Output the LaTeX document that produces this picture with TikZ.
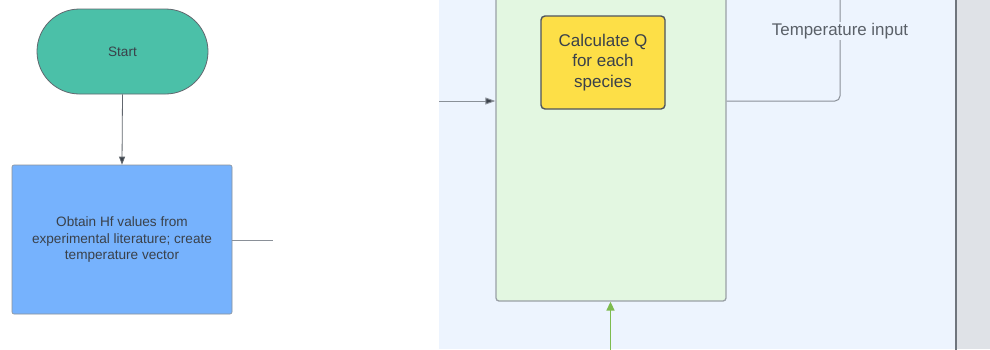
\documentclass[tikz,border=0pt]{standalone}
\usepackage{fontspec}
\setmainfont{Liberation Sans}
\usetikzlibrary{shapes.misc,arrows.meta}
\definecolor{panel}{HTML}{EDF4FE}
\definecolor{sidegrey}{HTML}{DFE2E7}
\definecolor{edgegrey}{HTML}{6F757D}
\definecolor{startfill}{HTML}{4BC0A8}
\definecolor{bluefill}{HTML}{76B2FD}
\definecolor{greenfill}{HTML}{E3F7E1}
\definecolor{greenedge}{HTML}{9AA0A6}
\definecolor{yellowfill}{HTML}{FDDF47}
\definecolor{txt}{HTML}{3A414A}
\definecolor{lbl}{HTML}{5A6068}
\definecolor{conn}{HTML}{8A9098}
\definecolor{garrow}{HTML}{7DBB4E}
\tikzset{
  startbox/.style={rounded rectangle, draw=txt!80, line width=0.8pt, fill=startfill, text=txt,
    minimum width=171pt, minimum height=85pt, inner sep=0pt, font=\fontsize{13.6}{16.7}\selectfont},
  procbox/.style={draw=edgegrey!80, line width=0.6pt, fill=bluefill, rounded corners=2pt, text=txt,
    minimum width=220pt, minimum height=149pt, inner sep=0pt, align=center, font=\fontsize{13.6}{16.7}\selectfont},
  loopbox/.style={draw=greenedge, line width=1.3pt, fill=greenfill, rounded corners=3pt,
    minimum width=230pt, minimum height=321pt, inner sep=0pt},
  calcbox/.style={draw=txt!90, line width=1.4pt, fill=yellowfill, rounded corners=4pt, text=txt,
    minimum width=124pt, minimum height=93pt, inner sep=0pt, align=center, font=\fontsize{17}{20.7}\selectfont},
  conline/.style={draw=conn, line width=1pt},
  lblnode/.style={fill=panel, text=lbl, inner sep=1pt, font=\fontsize{16.9}{19}\selectfont}
}
\begin{document}
\begin{tikzpicture}[x=1pt,y=-1pt]
\useasboundingbox (0,0) rectangle (990,349);
\clip (0,0) rectangle (990,349);
\fill[white] (0,0) rectangle (990,349);
\fill[panel] (439,0) rectangle (956,349);
\fill[sidegrey] (956,0) rectangle (990,349);
\draw[edgegrey, line width=2pt] (956,-2) -- (956,351);

\node[startbox] (start) at (122.5,51.5) {Start};
\node[procbox] (obtain) at (122,239.5) {Obtain Hf values from\\experimental literature; create\\temperature vector};
\coordinate (oEnd) at (273,240);
\draw[conline] (obtain.east |- oEnd) -- (oEnd);
\draw[draw=txt!80, line width=0.8pt, -{Triangle[length=8pt,width=6pt,fill=txt]}] (start.south) -- (obtain.north);

\node[loopbox] (loop) at (611,140.5) {};
\node[calcbox] (calc) at (603,62.5) {Calculate Q\\for each\\species};

\coordinate (inL) at (439,101);
\draw[conline, -{Triangle[length=10pt,width=7pt,fill=txt]}] (inL) -- (inL -| loop.west);

\coordinate (tEnd) at (840,-5);
\draw[conline, rounded corners=5pt] (loop.east |- inL) -- (tEnd |- inL) -- (tEnd);
\node[lblnode] (tlabel) at (840,31) {Temperature input};

\coordinate (gB) at (610.5,355);
\draw[garrow, line width=1.6pt, -{Triangle[length=9pt,width=8pt]}] (gB) -- (gB |- loop.south);
\end{tikzpicture}
\end{document}
